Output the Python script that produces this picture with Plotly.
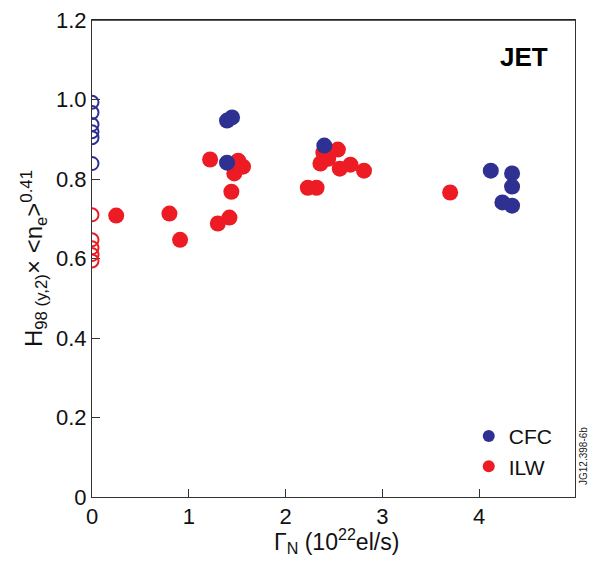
import plotly.graph_objects as go

# CFC (blue) filled points
cfc_x = [1.395, 1.447, 1.395, 2.40, 4.12, 4.34, 4.34, 4.24, 4.34]
cfc_y = [0.947, 0.955, 0.841, 0.884, 0.821, 0.814, 0.781, 0.741, 0.733]
# CFC open points at zero flux
cfc0_x = [0, 0, 0, 0, 0, 0]
cfc0_y = [0.993, 0.967, 0.937, 0.919, 0.904, 0.839]

# ILW (red) filled points
ilw_x = [0.25, 0.80, 0.91, 1.22, 1.51, 1.56, 1.47, 1.44, 1.42, 1.30,
         2.23, 2.32, 2.36, 2.44, 2.39, 2.54, 2.56, 2.67, 2.81, 3.70]
ilw_y = [0.708, 0.713, 0.647, 0.849, 0.846, 0.831, 0.814, 0.768, 0.703, 0.688,
         0.778, 0.778, 0.839, 0.851, 0.866, 0.874, 0.826, 0.836, 0.821, 0.766]
# ILW open points at zero flux
ilw0_x = [0, 0, 0, 0, 0]
ilw0_y = [0.710, 0.647, 0.627, 0.610, 0.594]

x_ticks = [0, 1, 2, 3, 4]
y_ticks = [0, 0.2, 0.4, 0.6, 0.8, 1.0, 1.2]
y_ticklabels = ["0", "0.2", "0.4", "0.6", "0.8", "1.0", "1.2"]

BLUE = "#2E3192"
RED = "#ED1C24"

fig = go.Figure()
fig.add_trace(go.Scatter(x=ilw_x, y=ilw_y, mode="markers", name="ILW",
                         marker=dict(size=16, color=RED, line=dict(width=0))))
fig.add_trace(go.Scatter(x=cfc_x, y=cfc_y, mode="markers", name="CFC",
                         marker=dict(size=16, color=BLUE, line=dict(width=0))))

# open circles at zero flux, drawn as axis-referenced shapes so they are clipped by the y axis
shapes = []
for xs, ys, col in [(cfc0_x, cfc0_y, BLUE), (ilw0_x, ilw0_y, RED)]:
    for xv, yv in zip(xs, ys):
        shapes.append(dict(type="circle", xref="x", yref="y",
                           xsizemode="pixel", ysizemode="pixel",
                           xanchor=xv, yanchor=yv, x0=-6.5, x1=6.5, y0=-6.5, y1=6.5,
                           line=dict(color=col, width=2), fillcolor="rgba(0,0,0,0)",
                           layer="above"))
# top edge of the frame
shapes.append(dict(type="line", xref="paper", yref="paper", x0=0, x1=1, y0=1, y1=1,
                   line=dict(color="#222", width=1.3), layer="above"))

FONT = "Liberation Sans, Arial, sans-serif"

fig.update_layout(
    width=592, height=561,
    margin=dict(l=92, r=17, t=20, b=64),
    paper_bgcolor="white", plot_bgcolor="white",
    font=dict(family=FONT, color="#111", size=21),
    showlegend=True,
    legend=dict(x=0.78, y=0.17, xanchor="left", yanchor="top",
                traceorder="reversed", font=dict(size=21),
                bgcolor="rgba(0,0,0,0)", itemsizing="constant",
                tracegroupgap=0, itemwidth=30),
    shapes=shapes,
    xaxis=dict(range=[0, 4.99], tickvals=x_ticks, ticks="inside", ticklen=8,
               tickcolor="#333", showline=True, linecolor="#333", linewidth=1,
               mirror=True, showgrid=False, zeroline=False, automargin=False,
               ticklabeloverflow="allow", tickfont=dict(size=22)),
    yaxis=dict(range=[0, 1.2], tickvals=y_ticks, ticktext=y_ticklabels,
               ticks="inside", ticklen=8, tickcolor="#333", showline=True,
               linecolor="#333", linewidth=1, mirror=True, showgrid=False,
               zeroline=False, automargin=False, ticklabeloverflow="allow",
               tickfont=dict(size=22)),
    annotations=[
        dict(text="H<sub>98 (y,2)</sub>× <n<sub>e</sub>><sup>0.41</sup>",
             x=-0.121, y=0.5, xref="paper", yref="paper",
             xanchor="center", yanchor="middle", textangle=-90, showarrow=False,
             font=dict(size=24, color="#111")),
        dict(text="Γ<sub>N</sub> (10<sup>22</sup>el/s)",
             x=0.506, y=-0.092, xref="paper", yref="paper",
             xanchor="center", yanchor="middle", showarrow=False,
             font=dict(size=23, color="#111")),
        dict(text="<b>JET</b>", x=0.948, y=0.922, xref="paper", yref="paper",
             xanchor="right", yanchor="middle", showarrow=False,
             font=dict(size=26, color="black")),
        dict(text="JG12.398-6b", x=1.0, y=0.086, xref="paper", yref="paper",
             xanchor="center", yanchor="middle", xshift=9, textangle=-90,
             showarrow=False, font=dict(size=10, color="#222")),
    ],
)

# remove the browser's default 8px page margin so the figure sits at the window origin
fig.write_html("out.html", config={"displayModeBar": False},
               post_script="document.body.style.margin='0';")
